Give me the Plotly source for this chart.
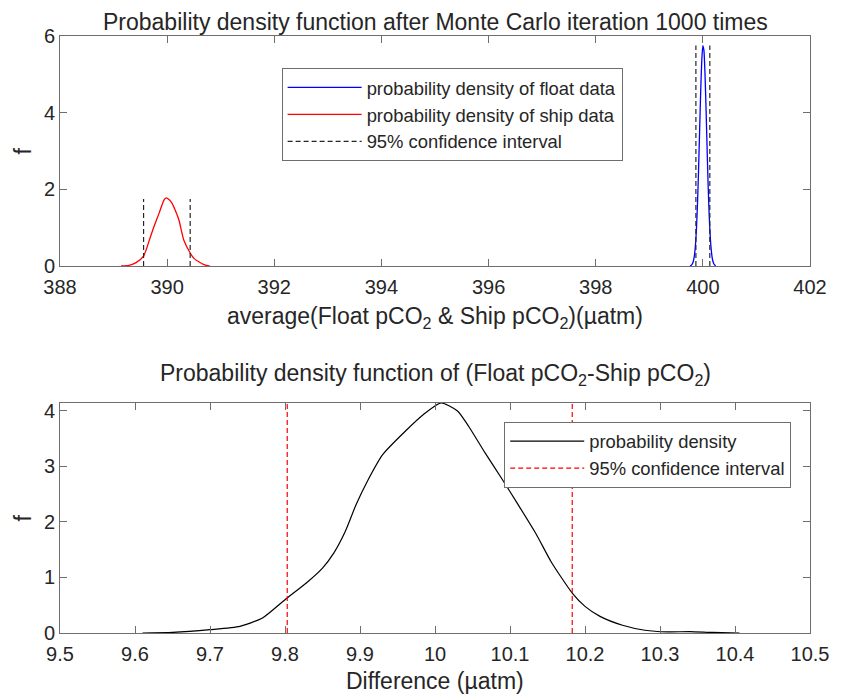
import plotly.graph_objects as go

# ---------------- data ----------------
float_x = [399.76, 399.78, 399.80, 399.82, 399.84, 399.86, 399.88, 399.90, 399.92, 399.94,
           399.96, 399.98, 400.00, 400.02, 400.04, 400.06, 400.08, 400.10, 400.12, 400.14,
           400.16, 400.18, 400.20, 400.22, 400.24]
float_f = [0.006, 0.017, 0.046, 0.11, 0.25, 0.52, 0.96, 1.63, 2.52, 3.55,
           4.57, 5.37, 5.75, 5.62, 5.01, 4.08, 3.03, 2.05, 1.26, 0.71,
           0.37, 0.17, 0.073, 0.028, 0.01]

ship_x = [389.14, 389.29, 389.42, 389.56, 389.69, 389.755, 389.85, 389.94, 389.98, 390.045,
          390.09, 390.155, 390.22, 390.31, 390.43, 390.50, 390.59, 390.70, 390.80]
ship_f = [0.0, 0.02, 0.09, 0.26, 0.77, 1.03, 1.38, 1.72, 1.78, 1.72,
          1.64, 1.44, 1.20, 0.68, 0.34, 0.20, 0.11, 0.03, 0.0]

ship_ci = [389.56, 390.43]
ship_ci_top = 1.75
float_ci = [399.87, 400.13]
float_ci_top = 5.75

diff_x = [9.61, 9.65, 9.70, 9.74, 9.77, 9.80, 9.83, 9.85, 9.865, 9.88,
          9.895, 9.91, 9.93, 9.96, 9.985, 10.008, 10.03, 10.045, 10.067, 10.09,
          10.11, 10.135, 10.155, 10.183, 10.20, 10.22, 10.25, 10.28, 10.31, 10.34,
          10.37, 10.406]
diff_f = [0.0, 0.01, 0.06, 0.12, 0.27, 0.60, 0.92, 1.17, 1.44, 1.82,
          2.32, 2.74, 3.21, 3.63, 3.94, 4.144, 4.00, 3.72, 3.24, 2.76,
          2.33, 1.78, 1.28, 0.72, 0.48, 0.30, 0.14, 0.05, 0.02, 0.025,
          0.01, 0.0]
diff_ci = [9.803, 10.183]
diff_ymax = 4.144

top_xticks = [388, 390, 392, 394, 396, 398, 400, 402]
top_yticks = [0, 2, 4, 6]
bot_xticks = [9.5, 9.6, 9.7, 9.8, 9.9, 10.0, 10.1, 10.2, 10.3, 10.4, 10.5]
bot_xlabels = ["9.5", "9.6", "9.7", "9.8", "9.9", "10", "10.1", "10.2", "10.3", "10.4", "10.5"]
bot_yticks = [0, 1, 2, 3, 4]

title_top = "Probability density function after Monte Carlo iteration 1000 times"
title_bot = "Probability density function of (Float pCO<sub>2</sub>-Ship pCO<sub>2</sub>)"
xlabel_top = "average(Float pCO<sub>2</sub> &amp; Ship pCO<sub>2</sub>)(µatm)"
xlabel_bot = "Difference (µatm)"
ylabel = "f"
names_top = ["probability density of float data", "probability density of ship data",
             "95% confidence interval"]
names_bot = ["probability density", "95% confidence interval"]

# ---------------- figure ----------------
AX = "#6e6e6e"
TXT = "#262626"
FONT = "Liberation Sans, Arial, Helvetica, sans-serif"

def vlines(xs, y0, y1):
    X, Y = [], []
    for v in xs:
        X += [v, v, None]
        Y += [y0, y1, None]
    return X, Y

fig = go.Figure()

fig.add_trace(go.Scatter(x=float_x, y=float_f, mode="lines", name=names_top[0],
                         line=dict(color="#0000ff", width=1.3, shape="spline", smoothing=0.6),
                         xaxis="x", yaxis="y", legend="legend"))
fig.add_trace(go.Scatter(x=ship_x, y=ship_f, mode="lines", name=names_top[1],
                         line=dict(color="#ff0000", width=1.3, shape="spline", smoothing=0.6),
                         xaxis="x", yaxis="y", legend="legend"))
cx1, cy1 = vlines(ship_ci, 0, ship_ci_top)
cx2, cy2 = vlines(float_ci, 0, float_ci_top)
fig.add_trace(go.Scatter(x=cx1 + cx2, y=cy1 + cy2, mode="lines", name=names_top[2],
                         line=dict(color="#262626", width=1.2, dash="5px,3px"),
                         xaxis="x", yaxis="y", legend="legend"))

fig.add_trace(go.Scatter(x=diff_x, y=diff_f, mode="lines", name=names_bot[0],
                         line=dict(color="#000000", width=1.2, shape="spline", smoothing=0.6),
                         xaxis="x2", yaxis="y2", legend="legend2"))
dx, dy = vlines(diff_ci, 0, diff_ymax)
fig.add_trace(go.Scatter(x=dx, y=dy, mode="lines", name=names_bot[1],
                         line=dict(color="#ff0000", width=1.2, dash="5px,3px"),
                         xaxis="x2", yaxis="y2", legend="legend2"))

axis_common = dict(showline=True, linecolor=AX, linewidth=1, mirror="ticks",
                   ticks="inside", ticklen=7, tickcolor=AX, tickwidth=1,
                   showgrid=False, zeroline=False,
                   tickfont=dict(size=20, color=TXT, family=FONT))

fig.update_layout(
    width=833, height=689,
    margin=dict(l=52, r=23, t=28, b=64),
    paper_bgcolor="white", plot_bgcolor="white",
    font=dict(family=FONT, color=TXT),
    xaxis=dict(domain=[0, 1], anchor="y", range=[388, 402], tickvals=top_xticks,
               ticklabelstandoff=3, **axis_common),
    yaxis=dict(domain=[0.6147, 1], anchor="x", range=[0, 6], tickvals=top_yticks, **axis_common),
    xaxis2=dict(domain=[0, 1], anchor="y2", range=[9.5, 10.5], tickvals=bot_xticks,
                ticktext=bot_xlabels, ticklabelstandoff=3, **axis_common),
    yaxis2=dict(domain=[0, 0.3853], anchor="x2", range=[0, diff_ymax], tickvals=bot_yticks,
                **axis_common),
    legend=dict(x=0.2955, y=0.9464, xanchor="left", yanchor="top",
                bordercolor=AX, borderwidth=1, bgcolor="white",
                font=dict(size=18.4, color=TXT, family=FONT), itemwidth=74,
                tracegroupgap=0),
    legend2=dict(x=0.5923, y=0.3539, xanchor="left", yanchor="top",
                 bordercolor=AX, borderwidth=1, bgcolor="white",
                 font=dict(size=18.4, color=TXT, family=FONT), itemwidth=74,
                 tracegroupgap=0),
    showlegend=True,
)

ann = dict(xref="paper", yref="paper", showarrow=False, font=dict(size=23, color=TXT, family=FONT))
fig.add_annotation(text=title_top, x=0.5, y=1.0235, xanchor="center", yanchor="middle", **ann)
fig.add_annotation(text=xlabel_top, x=0.5, y=0.556, xanchor="center", yanchor="top", **ann)
fig.add_annotation(text=title_bot, x=0.5, y=0.4607, xanchor="center", yanchor="top", **ann)
fig.add_annotation(text=xlabel_bot, x=0.5, y=-0.0804, xanchor="center", yanchor="middle", **ann)
fig.add_annotation(text=ylabel, x=-0.0488, y=0.8073, xanchor="center", yanchor="middle",
                   textangle=-90, **ann)
fig.add_annotation(text=ylabel, x=-0.0488, y=0.1926, xanchor="center", yanchor="middle",
                   textangle=-90, **ann)

fig.write_html("out.html")
